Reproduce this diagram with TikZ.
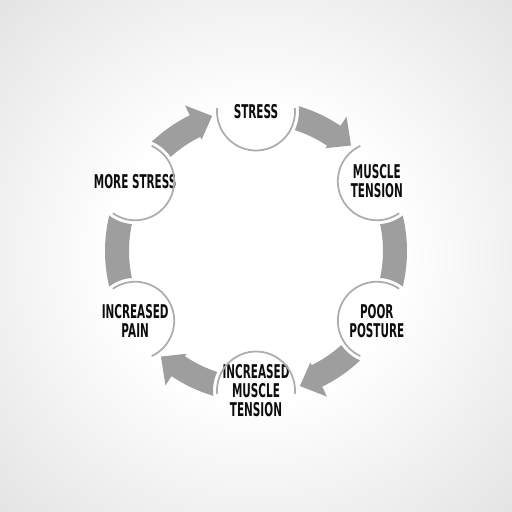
\documentclass[tikz,border=0pt]{standalone}
\usepackage{fontspec}
\usepackage{tikz}
\newfontfamily\labelFont{DejaVu Sans}[FakeStretch=0.55]
\pgfdeclareradialshading{bgGlow}{\pgfpoint{0bp}{0bp}}%
  {color(0bp)=(white); color(14bp)=(white); color(50bp)=(black!18); color(71bp)=(black!28)}
\tikzset{
     cycleNode/.style =
        { circle
        , minimum size=1.56cm
        , inner sep=0pt
        , align=center
        , text=black!95
        , font=\labelFont\bfseries\fontsize{10.8}{10.9}\selectfont
        }
   , ringArc/.style =
        { draw=black!32
        , line width=1pt
        }
   , bandFill/.style =
        { fill=black!38
        }
}

\begin{document}
\begin{tikzpicture}
            [ line join=miter
            ]
            \shade[shading=bgGlow] (-5.12,-5.22) rectangle (5.12,5.02);

            \node[cycleNode] (1) at (90:2.79)   {STRESS};
            \node[cycleNode] (2) at (30:2.79)   {MUSCLE\\TENSION};
            \node[cycleNode] (3) at (-30:2.79)  {POOR\\POSTURE};
            \node[cycleNode] (4) at (-90:2.79)  {INCREASED\\MUSCLE\\TENSION};
            \node[cycleNode] (5) at (-150:2.79) {INCREASED\\PAIN};
            \node[cycleNode] (6) at (150:2.79)  {MORE STRESS};

            % open rings, facing the middle
            \foreach \n/\a in {1/90,2/30,3/-30,4/-90,5/-150,6/150}
                \draw[ringArc] (\n.center) ++({\a+85}:0.78)
                    arc[start angle=\a+85, end angle=\a+275, radius=0.78];

            \begin{scope}
            % cut the bands away round every node
            \clip (-5.12,-5.22) -- (5.12,-5.22) -- (5.12,5.02) -- (-5.12,5.02) -- cycle
                \foreach \n in {1,...,6} {(\n.center) ++(0.86,0)
                    arc[start angle=0, end angle=-360, radius=0.86]};

            % bands with a head
            \foreach \s/\t in {90/48,-30/-72,-90/-132,150/108}
                \fill[bandFill] (\s:3.02) arc[start angle=\s, end angle=\t+8, radius=3.02]
                    -- ({\t+8}:3.24) -- (\t:2.84) -- ({\t+8}:2.48) -- ({\t+8}:2.54)
                    arc[start angle=\t+8, end angle=\s, radius=2.54] -- cycle;

            % plain bands
            \foreach \s/\t in {30/-30,-150/-210}
                \fill[bandFill] (\s:3.02) arc[start angle=\s, end angle=\t, radius=3.02]
                    -- (\t:2.54) arc[start angle=\t, end angle=\s, radius=2.54] -- cycle;
            \end{scope}
\end{tikzpicture}
\end{document}
